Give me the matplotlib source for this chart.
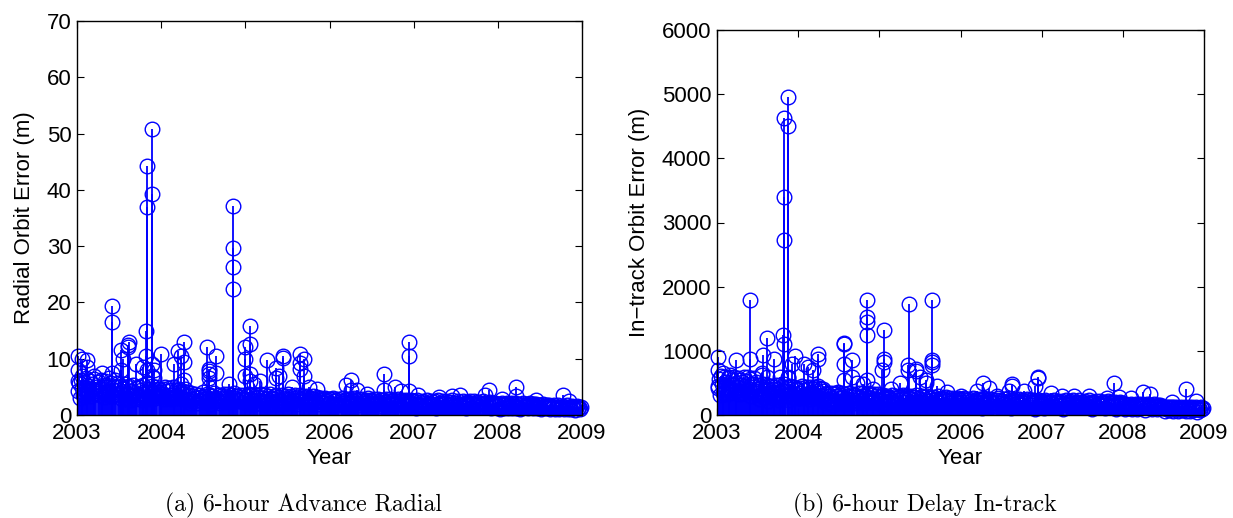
import numpy as np
import matplotlib
matplotlib.use("Agg")
import matplotlib.pyplot as plt

# ---------------- data ----------------
years = [2003, 2004, 2005, 2006, 2007, 2008]

radial_2003 = [4.2, 5.6, 3.1, 6.3, 4.8, 3.5, 5.9, 4.4, 6.6, 3.8, 5.2, 4.0, 6.1, 3.3, 5.5, 4.7, 6.4, 3.9, 5.0, 4.3,
               5.8, 3.6, 6.2, 4.6, 5.3, 3.2, 6.0, 4.9, 5.4, 3.7, 6.5, 4.1, 5.7, 3.4, 5.1, 4.5, 6.2, 3.8, 5.6, 4.4,
               3.9, 5.2, 2.8, 4.6, 3.5, 5.5, 3.0, 4.9, 3.7, 5.1, 2.6, 4.3, 3.3, 5.4, 4.0, 2.9, 4.8, 3.6, 5.0, 3.2,
               4.5, 2.7, 5.3, 3.8, 4.2, 3.1, 5.6, 4.0, 3.4, 4.7, 2.8, 5.2, 3.9, 4.4, 3.0, 5.0, 3.6, 4.6, 3.3, 4.1]
radial_2004 = [3.8, 4.6, 2.9, 5.0, 3.4, 4.2, 3.1, 4.8, 3.6, 4.4, 2.8, 4.9, 3.9, 3.2, 4.5, 3.5, 4.7, 3.0, 4.1, 3.7,
               4.3, 2.9, 4.6, 3.3, 4.0, 2.6, 3.5, 2.2, 3.9, 2.8, 3.3, 2.4, 3.7, 3.0, 2.1, 3.6, 2.7, 3.2, 2.5, 4.0,
               2.9, 3.4, 2.3, 3.8, 3.1, 2.6, 3.5, 2.0, 3.3, 2.8, 3.9, 2.4, 3.1, 2.7, 3.6, 2.2, 3.4, 3.0, 2.5, 3.8,
               2.9, 3.3, 2.6, 3.7, 2.3, 3.2, 2.8, 3.5, 2.4, 3.9, 3.0, 2.7, 3.4, 2.5, 3.6, 2.8, 3.2, 2.3, 3.5, 2.9]
radial_2005 = [2.6, 3.4, 1.9, 3.7, 2.8, 2.2, 3.5, 2.4, 3.1, 2.0, 3.6, 2.7, 3.2, 2.1, 3.8, 2.5, 3.0, 2.3, 3.5, 2.9,
               1.8, 3.3, 2.6, 3.7, 2.2, 3.1, 2.8, 3.4, 2.0, 3.6, 2.4, 3.2, 2.7, 1.9, 3.5, 2.5, 3.0, 2.2, 3.3, 2.8,
               3.7, 2.1, 2.9, 3.4, 2.4, 3.1, 2.6, 3.6, 2.0, 3.2, 2.7, 3.5, 2.3, 2.9, 3.3, 2.5, 3.0, 2.1, 3.4, 2.6,
               2.4, 3.1, 2.0, 2.8, 3.3, 2.2, 2.9, 2.5, 3.2, 1.9, 2.7, 3.0, 2.3, 2.8, 2.1, 3.1, 2.4, 2.6, 2.0, 2.9]
radial_2006 = [2.2, 2.8, 1.6, 3.0, 2.4, 1.9, 2.7, 2.0, 2.9, 1.7, 2.5, 2.2, 3.0, 1.8, 2.6, 2.3, 2.9, 1.9, 2.7, 2.1,
               2.8, 1.6, 2.4, 3.0, 2.0, 2.6, 2.2, 2.8, 1.7, 2.5, 2.9, 2.1, 2.4, 1.8, 2.7, 2.3, 3.0, 1.9, 2.6, 2.2,
               2.5, 1.7, 2.8, 2.1, 2.4, 1.9, 2.9, 2.2, 2.6, 1.6, 2.7, 2.3, 2.0, 2.8, 1.8, 2.5, 2.2, 2.9, 1.9, 2.4,
               2.1, 2.7, 1.7, 2.5, 2.2, 2.8, 1.8, 2.3, 2.6, 1.9, 2.4, 2.1, 2.7, 1.6, 2.3, 2.5, 1.9, 2.6, 2.0, 2.4]
radial_2007 = [1.9, 2.4, 1.3, 2.6, 2.0, 1.6, 2.3, 1.7, 2.5, 1.4, 2.1, 1.8, 2.6, 1.5, 2.2, 1.9, 2.5, 1.6, 2.3, 1.8,
               2.4, 1.3, 2.0, 2.6, 1.7, 2.2, 1.9, 2.4, 1.4, 2.1, 2.5, 1.8, 2.0, 1.5, 2.3, 1.9, 2.6, 1.6, 2.2, 1.8,
               2.1, 1.4, 2.4, 1.8, 2.0, 1.6, 2.5, 1.9, 2.2, 1.3, 2.3, 2.0, 1.7, 2.4, 1.5, 2.1, 1.9, 2.5, 1.6, 2.0,
               1.8, 2.3, 1.4, 2.1, 1.9, 2.4, 1.5, 2.0, 2.2, 1.6, 2.1, 1.8, 2.3, 1.3, 1.9, 2.2, 1.6, 2.1, 1.7, 2.0]
radial_2008 = [1.6, 2.0, 1.1, 2.2, 1.7, 1.3, 1.9, 1.4, 2.1, 1.2, 1.8, 1.5, 2.2, 1.2, 1.9, 1.6, 2.1, 1.3, 1.9, 1.5,
               2.0, 1.1, 1.7, 2.2, 1.4, 1.8, 1.6, 2.0, 1.2, 1.8, 2.1, 1.5, 1.7, 1.3, 1.9, 1.6, 2.0, 1.3, 1.8, 1.5,
               1.7, 1.1, 1.9, 1.4, 1.6, 1.2, 1.8, 1.5, 1.7, 1.0, 1.6, 1.4, 1.2, 1.7, 1.1, 1.5, 1.3, 1.7, 1.0, 1.4,
               1.3, 1.6, 1.0, 1.5, 1.3, 1.7, 1.0, 1.4, 1.5, 1.1, 1.6, 1.3, 1.5, 0.9, 1.4, 1.6, 1.2, 1.5, 1.1, 1.4]

radial_spike_t = [2003.01, 2003.01, 2003.01, 2003.06, 2003.06, 2003.12, 2003.12, 2003.20, 2003.30,
                  2003.41, 2003.41, 2003.41, 2003.52, 2003.52, 2003.55, 2003.60, 2003.60, 2003.62, 2003.70,
                  2003.78, 2003.82, 2003.82, 2003.83, 2003.83, 2003.83, 2003.89, 2003.89, 2003.89, 2003.89,
                  2003.92, 2003.92, 2004.00, 2004.15, 2004.20, 2004.24, 2004.24, 2004.27, 2004.27, 2004.27,
                  2004.55, 2004.57, 2004.57, 2004.57, 2004.57, 2004.57, 2004.65, 2004.65, 2004.80,
                  2004.85, 2004.85, 2004.85, 2004.85, 2005.00, 2005.00, 2005.00, 2005.05, 2005.05, 2005.05,
                  2005.05, 2005.10, 2005.17, 2005.26, 2005.36, 2005.36, 2005.40, 2005.45, 2005.45, 2005.55,
                  2005.65, 2005.65, 2005.65, 2005.70, 2005.70, 2005.76, 2005.85, 2006.20, 2006.25, 2006.25,
                  2006.33, 2006.45, 2006.65, 2006.65, 2006.78, 2006.85, 2006.95, 2006.95, 2006.95, 2007.05,
                  2007.30, 2007.45, 2007.55, 2007.85, 2007.90, 2008.05, 2008.22, 2008.22, 2008.45, 2008.77,
                  2008.85]
radial_spike_v = [10.5, 8.0, 6.0, 10.0, 7.0, 9.8, 8.5, 7.0, 7.5,
                  19.3, 16.6, 7.5, 8.0, 11.5, 10.0, 12.5, 12.0, 13.0, 9.0,
                  8.5, 15.0, 10.5, 44.2, 37.0, 8.0, 50.8, 39.2, 9.0, 7.0,
                  8.0, 6.5, 10.8, 9.0, 11.3, 10.5, 5.5, 13.0, 9.5, 6.3,
                  12.0, 8.2, 7.8, 7.2, 6.5, 5.0, 10.5, 7.5, 5.5,
                  37.2, 29.7, 26.3, 22.3, 12.0, 10.0, 7.0, 15.9, 12.7, 7.2,
                  6.0, 5.5, 6.0, 9.7, 8.3, 6.5, 7.0, 10.5, 10.2, 5.0,
                  10.8, 9.3, 8.2, 10.0, 7.0, 5.0, 4.7, 5.3, 6.2, 4.5,
                  4.5, 3.8, 7.3, 4.5, 5.0, 4.3, 13.0, 10.5, 4.3, 3.5,
                  3.2, 3.3, 3.5, 3.5, 4.5, 2.8, 4.9, 3.3, 2.6, 3.6,
                  2.5]

intrack_2003 = [420, 560, 310, 610, 480, 350, 590, 440, 520, 330, 580, 400, 620, 360, 540, 470, 600, 380, 500, 430,
                570, 320, 550, 460, 510, 340, 600, 450, 530, 370, 590, 410, 560, 300, 490, 440, 580, 350, 520, 400,
                380, 460, 250, 420, 330, 480, 280, 440, 350, 470, 220, 400, 310, 450, 360, 260, 430, 320, 470, 290,
                410, 240, 460, 340, 390, 270, 480, 370, 300, 430, 230, 450, 350, 400, 280, 440, 330, 410, 260, 390]
intrack_2004 = [350, 420, 260, 450, 310, 390, 280, 440, 330, 400, 250, 430, 360, 290, 410, 320, 440, 270, 380, 340,
                420, 260, 400, 300, 370, 240, 320, 180, 350, 250, 300, 200, 340, 270, 160, 330, 230, 290, 210, 360,
                260, 310, 190, 340, 280, 220, 320, 170, 300, 250, 350, 200, 280, 240, 330, 180, 310, 270, 210, 350,
                260, 300, 230, 340, 190, 290, 250, 320, 200, 350, 270, 230, 310, 210, 330, 250, 290, 200, 320, 240]
intrack_2005 = [240, 300, 150, 310, 260, 190, 290, 210, 280, 160, 270, 230, 310, 170, 260, 220, 300, 180, 280, 240,
                290, 140, 250, 310, 200, 270, 230, 300, 160, 260, 290, 210, 250, 170, 280, 230, 310, 180, 270, 220,
                250, 160, 290, 210, 240, 180, 300, 220, 260, 140, 270, 230, 200, 280, 170, 250, 220, 290, 180, 240,
                210, 270, 150, 250, 220, 280, 160, 230, 260, 180, 240, 210, 270, 130, 230, 250, 190, 260, 200, 240]
intrack_2006 = [200, 250, 120, 260, 210, 160, 240, 170, 250, 130, 220, 190, 260, 140, 230, 200, 250, 150, 240, 180,
                250, 110, 210, 260, 170, 230, 190, 250, 130, 220, 250, 180, 210, 140, 240, 200, 260, 150, 230, 190,
                220, 130, 250, 180, 210, 150, 260, 190, 230, 110, 240, 200, 170, 250, 140, 220, 190, 250, 150, 210,
                180, 240, 120, 220, 190, 250, 130, 200, 230, 150, 210, 180, 240, 100, 200, 220, 160, 230, 170, 210]
intrack_2007 = [180, 220, 110, 230, 190, 140, 210, 150, 220, 120, 200, 170, 230, 130, 200, 180, 220, 140, 210, 160,
                220, 100, 190, 230, 150, 200, 170, 220, 120, 190, 230, 160, 190, 130, 210, 180, 230, 140, 200, 170,
                200, 120, 220, 160, 190, 140, 230, 170, 200, 100, 210, 180, 150, 220, 130, 190, 170, 220, 140, 190,
                160, 210, 110, 190, 170, 220, 120, 180, 200, 140, 190, 160, 210, 90, 170, 190, 140, 200, 150, 180]
intrack_2008 = [140, 170, 90, 170, 150, 110, 160, 120, 170, 100, 150, 130, 170, 100, 150, 140, 170, 110, 160, 130,
                160, 80, 140, 170, 120, 150, 130, 160, 90, 140, 170, 120, 140, 100, 150, 130, 160, 110, 140, 120,
                110, 70, 130, 100, 120, 80, 130, 110, 120, 60, 120, 100, 90, 130, 70, 110, 100, 130, 80, 110,
                100, 120, 60, 110, 90, 130, 70, 100, 120, 80, 110, 90, 120, 50, 100, 110, 80, 120, 90, 110]

intrack_spike_t = [2003.01, 2003.01, 2003.01, 2003.08, 2003.15, 2003.23, 2003.41, 2003.41, 2003.55, 2003.55,
                   2003.57, 2003.62, 2003.62, 2003.70, 2003.78, 2003.81, 2003.82, 2003.82, 2003.82, 2003.82,
                   2003.88, 2003.88, 2003.88, 2003.88, 2003.93, 2003.96, 2004.07, 2004.12, 2004.18, 2004.25,
                   2004.25, 2004.25, 2004.30, 2004.45, 2004.56, 2004.56, 2004.56, 2004.56, 2004.66, 2004.66,
                   2004.72, 2004.80, 2004.85, 2004.85, 2004.85, 2004.85, 2004.85, 2004.92, 2005.03, 2005.06,
                   2005.06, 2005.06, 2005.14, 2005.25, 2005.35, 2005.35, 2005.37, 2005.45, 2005.45, 2005.50,
                   2005.58, 2005.58, 2005.65, 2005.65, 2005.65, 2005.65, 2005.71, 2005.83, 2006.00, 2006.20,
                   2006.28, 2006.35, 2006.45, 2006.60, 2006.63, 2006.63, 2006.78, 2006.92, 2006.95, 2006.95,
                   2007.11, 2007.25, 2007.40, 2007.58, 2007.80, 2007.89, 2007.95, 2008.10, 2008.25, 2008.34,
                   2008.60, 2008.78, 2008.90]
intrack_spike_v = [900, 700, 450, 650, 600, 850, 1800, 870, 650, 620,
                   930, 1200, 600, 870, 600, 1250, 4630, 3400, 2720, 1100,
                   4950, 4500, 600, 580, 800, 920, 800, 750, 700, 950,
                   880, 450, 400, 350, 1120, 1100, 800, 550, 850, 600,
                   500, 480, 1800, 1520, 1450, 1250, 550, 400, 700, 1330,
                   870, 820, 400, 500, 780, 700, 1730, 720, 680, 600,
                   550, 500, 1790, 860, 830, 780, 450, 360, 300, 380,
                   500, 420, 300, 380, 480, 450, 380, 450, 590, 570,
                   350, 300, 290, 290, 270, 500, 280, 260, 360, 320,
                   200, 400, 220]

radial_years = [radial_2003, radial_2004, radial_2005, radial_2006, radial_2007, radial_2008]
intrack_years = [intrack_2003, intrack_2004, intrack_2005, intrack_2006, intrack_2007, intrack_2008]

xtick_vals = [2003, 2004, 2005, 2006, 2007, 2008, 2009]


def assemble(year_lists, spike_t, spike_v):
    xs, ys = [], []
    for yr, vals in zip(years, year_lists):
        n = len(vals)
        for i, v in enumerate(vals):
            xs.append(yr + (i + 0.5) / n)
            ys.append(v)
    xs.extend(spike_t)
    ys.extend(spike_v)
    return np.array(xs), np.array(ys)


# ---------------- figure ----------------
plt.rcParams['font.family'] = ['Liberation Sans', 'DejaVu Sans']
fig = plt.figure(figsize=(12.33, 5.18), dpi=100)

W, H = 1233.0, 518.0
ax1 = fig.add_axes([77 / W, 1 - 415 / H, (582 - 77) / W, (415 - 21) / H])
ax2 = fig.add_axes([717 / W, 1 - 415 / H, (1204 - 717) / W, (415 - 30) / H])

blue = (0, 0, 1)
FS = 16


def draw(ax, xs, ys, ylim, yticks, ylabel):
    ml, sl, bl = ax.stem(xs, ys, linefmt='-', markerfmt='o', basefmt=' ')
    sl.set_color(blue)
    sl.set_linewidth(1.3)
    ml.set_color(blue)
    ml.set_markerfacecolor('none')
    ml.set_markeredgecolor(blue)
    ml.set_markersize(10.5)
    ml.set_markeredgewidth(1.0)
    ml.set_clip_on(False)
    ax.set_xlim(2003, 2009)
    ax.set_ylim(*ylim)
    ax.set_xticks(xtick_vals)
    ax.set_yticks(yticks)
    ax.tick_params(direction='in', top=True, right=True, length=5, width=0.8,
                   labelsize=FS)
    ax.tick_params(axis='x', pad=6)
    ax.tick_params(axis='y', pad=4)
    for s in ax.spines.values():
        s.set_linewidth(1.0)
    ax.set_xlabel('Year', fontsize=FS, labelpad=3)
    ax.set_ylabel(ylabel, fontsize=FS, labelpad=8.5)


x1, y1 = assemble(radial_years, radial_spike_t, radial_spike_v)
draw(ax1, x1, y1, (0, 70), [0, 10, 20, 30, 40, 50, 60, 70], 'Radial Orbit Error (m)')

x2, y2 = assemble(intrack_years, intrack_spike_t, intrack_spike_v)
draw(ax2, x2, y2, (0, 6000), [0, 1000, 2000, 3000, 4000, 5000, 6000], 'In\u2212track Orbit Error (m)')

fig.text(303 / W, 1 - 505 / H, '(a) 6-hour Advance Radial', family='cmr10', fontsize=17,
         ha='center', va='center')
fig.text(925 / W, 1 - 505 / H, '(b) 6-hour Delay In-track', family='cmr10', fontsize=17,
         ha='center', va='center')

fig.savefig('out.png', dpi=100)
